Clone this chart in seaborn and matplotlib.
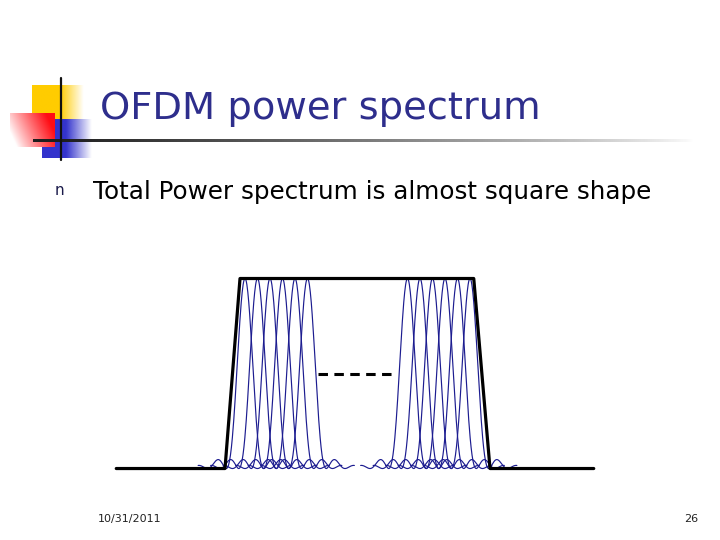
import numpy as np
import pandas as pd
import matplotlib.pyplot as plt
import seaborn as sns

# subcarrier centres (in units of the carrier spacing)
left_carriers = [0, 1, 2, 3, 4, 5]
right_carriers = [13, 14, 15, 16, 17, 18]
lobe_width = 1.5   # first null of each sinc^2, in carrier spacings
lobe_span = 2.5    # drawn out to this many nulls either side

# total power envelope (trapezoid)
env_f = [-10.3, -1.6, -0.4, 18.3, 19.6, 27.9]
env_p = [0, 0, 1, 1, 0, 0]

# "----" gap marker
gap_f = [5.85, 11.75]
gap_p = [0.5, 0.5]

title = "OFDM power spectrum"
bullet_text = "Total Power spectrum is almost square shape"
footer_date = "10/31/2011"
page_no = "26"

sns.set_theme(style="white")
plt.rcParams['font.family'] = ['DejaVu Sans']

fig = plt.figure(figsize=(7.2, 5.4), dpi=100)
fig.patch.set_facecolor('white')

# slide decoration layer, pixel coordinates
bg = fig.add_axes([0, 0, 1, 1], zorder=0)
bg.set_xlim(0, 720)
bg.set_ylim(540, 0)
bg.axis('off')


def grad_box(ax, x0, x1, y0, y1, rgb, fade_from, fade_to):
    xs = np.linspace(x0, x1, 120)
    alpha = np.clip((fade_to - xs) / (fade_to - fade_from), 0, 1)
    img = np.ones((2, xs.size, 4))
    img[..., :3] = rgb
    img[..., 3] = alpha
    ax.imshow(img, extent=(x0, x1, y1, y0), aspect='auto', interpolation='bilinear')


grad_box(bg, 32, 84, 85, 119, (1.0, 0.8, 0.0), 60, 84)
grad_box(bg, 42, 92, 119, 158, (0.2, 0.2, 0.8), 66, 92)

# red square: red on the right, fading to white towards bottom-left
X, Y = np.meshgrid(np.linspace(0, 1, 60), np.linspace(0, 1, 50))
t = np.clip(1.0 * X + 0.35 * (1 - Y) - 0.15, 0, 1) ** 0.9
red = np.ones((50, 60, 3))
red[..., 1] = 1 - 0.95 * t
red[..., 2] = 1 - 0.92 * t
bg.imshow(red, extent=(10, 55, 147, 113), aspect='auto', interpolation='bilinear')

# rule under title fading to white
xs = np.linspace(33, 695, 300)
line = np.ones((1, xs.size, 4))
line[..., :3] = 0.12
line[..., 3] = np.clip(1 - (xs - 60) / 635, 0, 1) ** 0.8
bg.imshow(line, extent=(33, 695, 142.5, 139.5), aspect='auto', interpolation='bilinear')
bg.plot([61, 61], [78, 160], color='#111111', lw=1.6)

bg.text(100, 119, title, fontsize=27.7, color='#2e2e8c', va='baseline', ha='left')
bg.text(55, 195, "n", fontsize=11, color='#1a1a4a', va='baseline', ha='left')
bg.text(93, 199, bullet_text, fontsize=17.7, color='black', va='baseline', ha='left')
bg.text(98, 522, footer_date, fontsize=8, color='#222222', va='baseline', ha='left')
bg.text(698, 522, page_no, fontsize=8, color='#222222', va='baseline', ha='right')

# spectrum diagram
ax = fig.add_axes([100 / 720, 50 / 540, 510 / 720, 240 / 540], zorder=1)
ax.patch.set_alpha(0)

rows = []
for c in left_carriers + right_carriers:
    half = lobe_span * lobe_width
    f = np.linspace(c - half, c + half, 201)
    p = np.sinc((f - c) / lobe_width) ** 2
    rows.append(pd.DataFrame({'f': f, 'p': p, 'carrier': c}))
lobes = pd.concat(rows, ignore_index=True)

sns.lineplot(data=lobes, x='f', y='p', units='carrier', estimator=None,
             color='#1c1c90', lw=0.85, ax=ax, zorder=2)
sns.lineplot(x=env_f, y=env_p, sort=False, color='black', lw=2.3, ax=ax, zorder=3)
ax.plot(gap_f, gap_p, color='black', lw=2.2, dashes=(3.1, 2.1), zorder=3)

ax.set_xlim(-11.6, 29.2)
ax.set_ylim(-0.113, 1.15)
ax.axis('off')

fig.savefig('out.png', dpi=100)
